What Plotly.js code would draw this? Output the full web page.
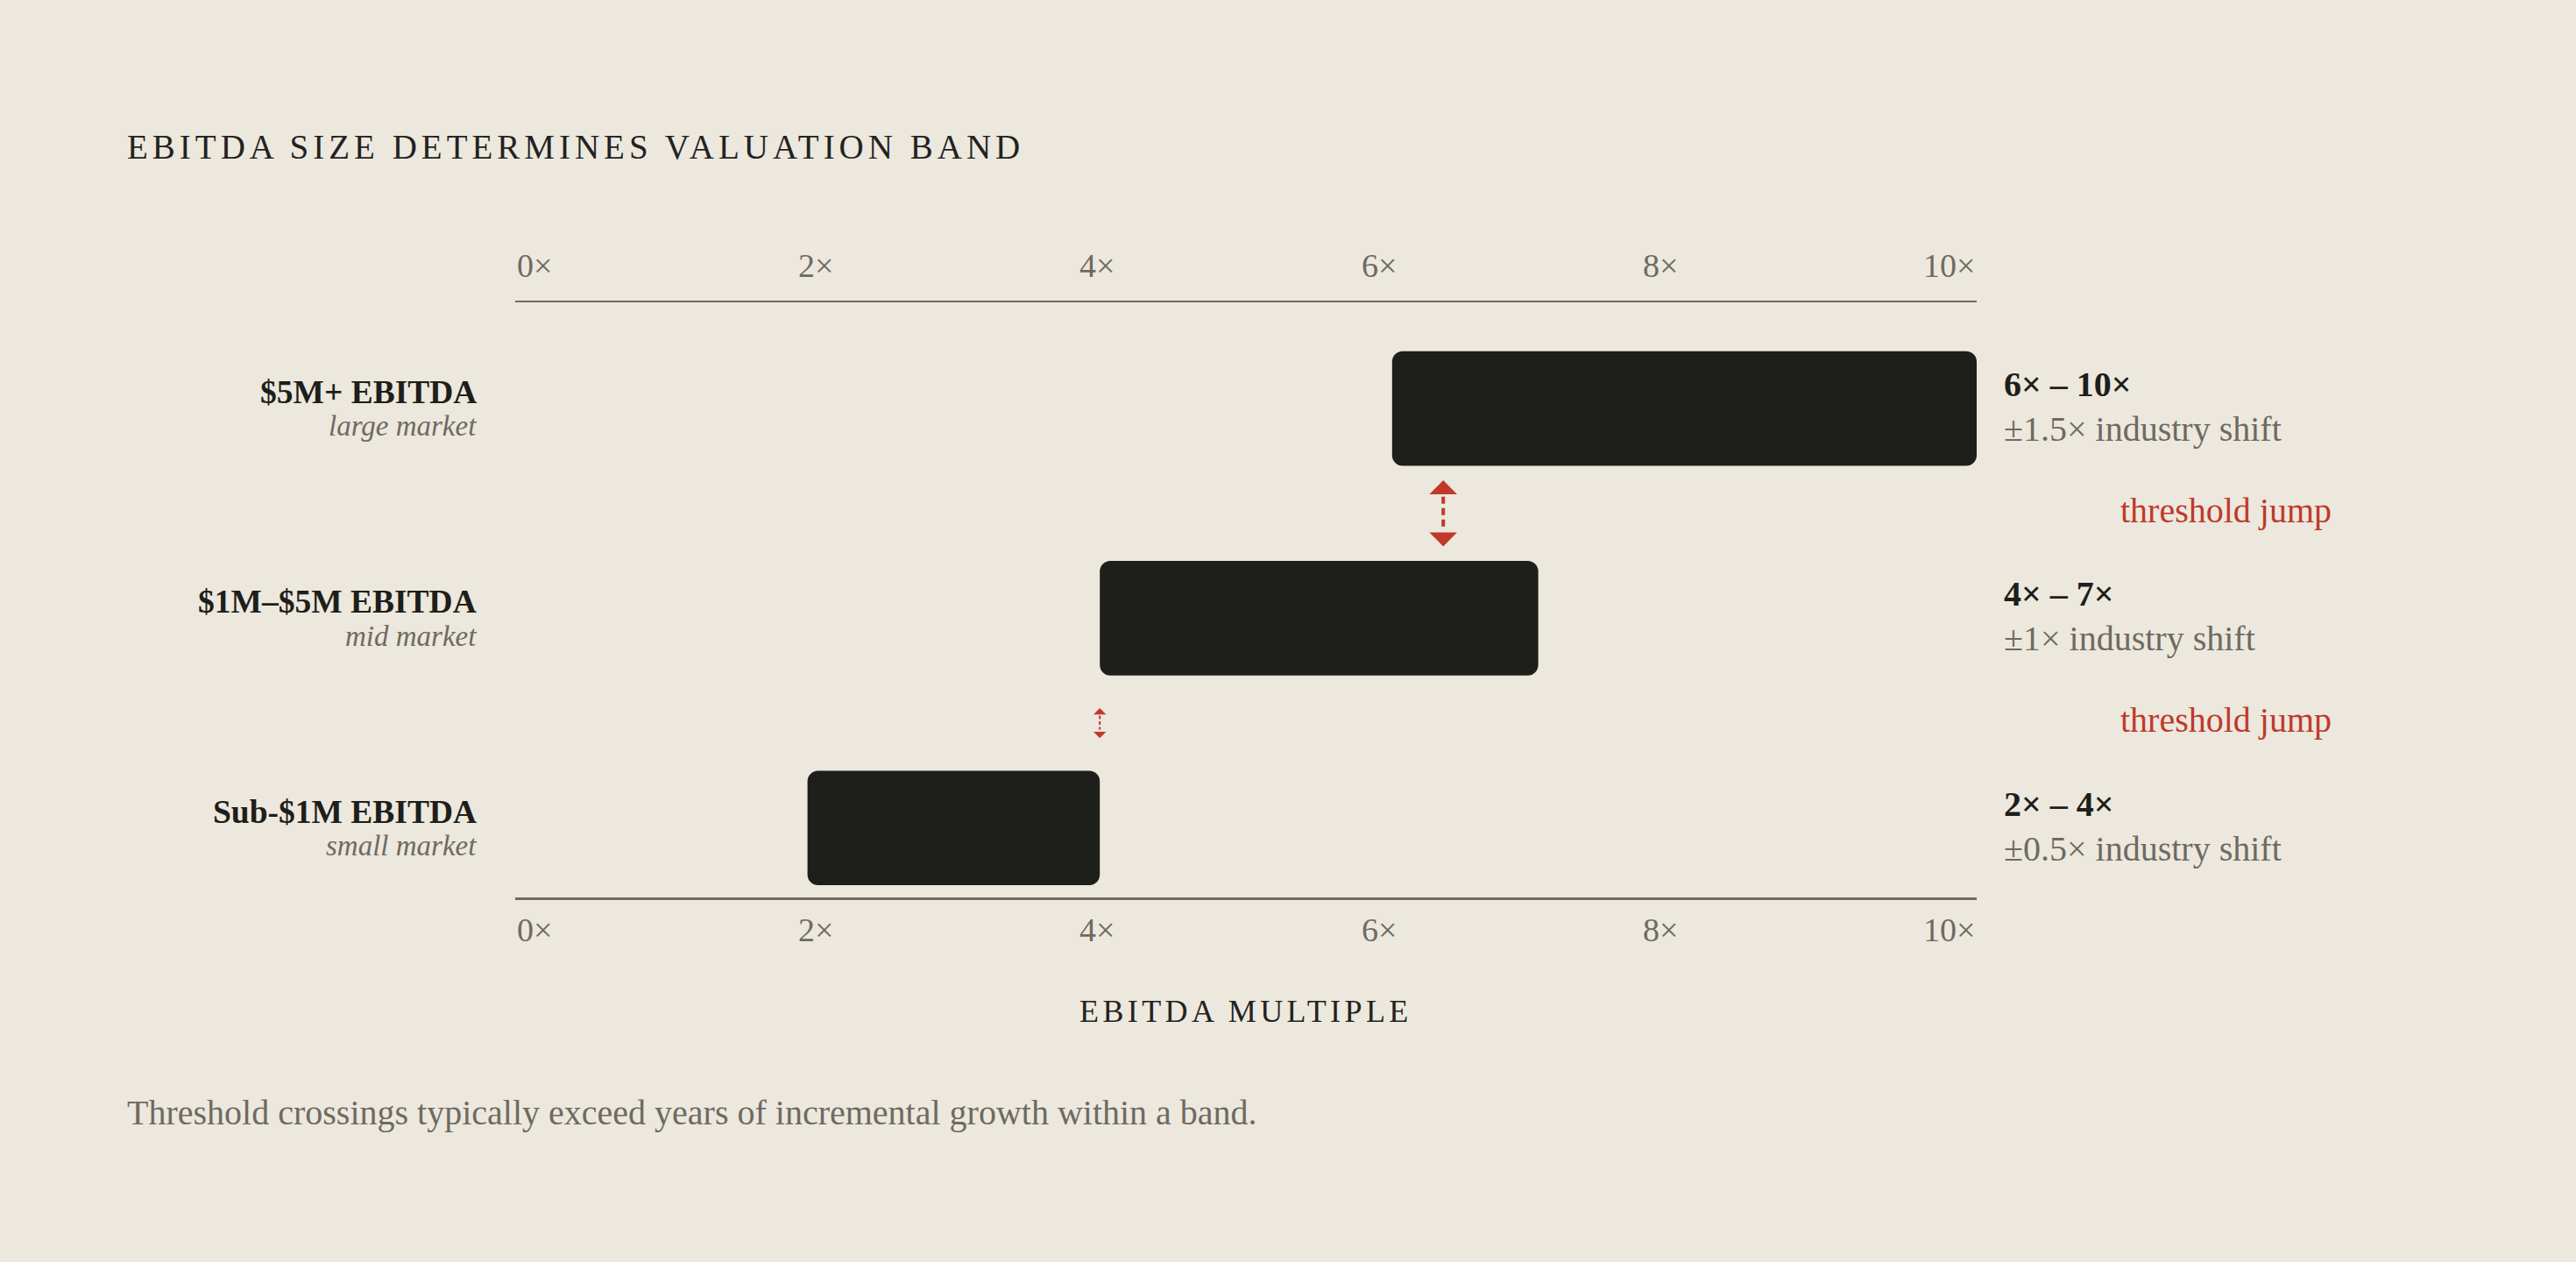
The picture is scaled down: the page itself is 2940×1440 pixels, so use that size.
<!DOCTYPE html>
<html>
<head>
<meta charset="utf-8">
<script src="https://cdn.plot.ly/plotly-3.0.1.min.js"></script>
<style>
  html, body { margin: 0; padding: 0; background: #ECE8DD; }
  #chart { width: 2940px; height: 1440px; }
</style>
</head>
<body>
<div id="chart"></div>
<script>
// ---------- data ----------
const bands = ['$5M+ EBITDA', '$1M–$5M EBITDA', 'Sub-$1M EBITDA'];
const markets = ['large market', 'mid market', 'small market'];
const lowMultiple = [6, 4, 2];
const highMultiple = [10, 7, 4];
const rangeLabels = ['6× – 10×', '4× – 7×', '2× – 4×'];
const shiftLabels = ['±1.5× industry shift', '±1× industry shift', '±0.5× industry shift'];
const tickValues = [0, 2, 4, 6, 8, 10];
const tickLabels = ['0×', '2×', '4×', '6×', '8×', '10×'];
const jumpArrowX = [6.35, 4.0];
const jumpLabels = ['threshold jump', 'threshold jump'];
const titleText = 'EBITDA SIZE DETERMINES VALUATION BAND';
const axisTitleText = 'EBITDA MULTIPLE';
const footnoteText = 'Threshold crossings typically exceed years of incremental growth within a band.';

// ---------- style ----------
const BG = '#ECE8DD';
const INK = '#1E1E1A';
const GRAY = '#6E6A62';
const RED = '#C0392B';
const SERIF = 'Liberation Serif, DejaVu Serif, serif';

const n = bands.length;
const rowPos = bands.map((_, i) => n - 1 - i);          // top band at top
const jumpPos = jumpArrowX.map((_, i) => n - 1.5 - i);   // between rows
const arrowScale = [1, 0.455];

const barTrace = {
  type: 'bar',
  orientation: 'h',
  y: rowPos,
  base: lowMultiple,
  x: highMultiple.map((h, i) => h - lowMultiple[i]),
  width: 0.546,
  marker: { color: INK, line: { width: 0 } },
  hoverinfo: 'skip',
  showlegend: false
};

const annotations = [];
const spaced = [];

// title
annotations.push({
  xref: 'paper', yref: 'paper', x: 0, y: 1, xanchor: 'left', yanchor: 'middle', align: 'left',
  xshift: -445, yshift: 177.5, showarrow: false, text: titleText,
  font: { family: SERIF, size: 39, color: '#23221F' }
});
spaced.push([annotations.length - 1, '5px']);

// axis title
annotations.push({
  xref: 'paper', yref: 'paper', x: 0.5, y: 0, xanchor: 'center', yanchor: 'middle',
  yshift: -129.5, showarrow: false, text: axisTitleText,
  font: { family: SERIF, size: 36, color: '#23221F' }
});
spaced.push([annotations.length - 1, '4.4px']);

// footnote
annotations.push({
  xref: 'paper', yref: 'paper', x: 0, y: 0, xanchor: 'left', yanchor: 'middle', align: 'left',
  xshift: -445.5, yshift: -(1284.5 - 13.6 - 1025), showarrow: false, text: footnoteText,
  font: { family: SERIF, size: 40, color: GRAY }
});

// tick labels top & bottom (flex space-between style placement)
tickValues.forEach((v, k) => {
  const last = tickValues.length - 1;
  const xa = k === 0 ? 'left' : (k === last ? 'right' : 'center');
  const xs = (k === 0 || k === last) ? 0 : 21 - 12 * k;
  [[1, 42], [0, -37.4]].forEach(([py, ys]) => {
    annotations.push({
      xref: 'x', yref: 'paper', x: v, y: py, xanchor: xa, yanchor: 'middle',
      xshift: xs, yshift: ys, showarrow: false, text: tickLabels[k],
      font: { family: SERIF, size: 38, color: GRAY }
    });
  });
});

// row labels
bands.forEach((b, i) => {
  annotations.push({
    xref: 'paper', yref: 'y', x: 0, y: rowPos[i], xanchor: 'right', yanchor: 'middle',
    xshift: -42.5, yshift: 18.6, showarrow: false, text: b,
    font: { family: SERIF, size: 37.5, color: INK, weight: 'bold' }
  });
  annotations.push({
    xref: 'paper', yref: 'y', x: 0, y: rowPos[i], xanchor: 'right', yanchor: 'middle',
    xshift: -42.5, yshift: -20.3, showarrow: false, text: markets[i],
    font: { family: SERIF, size: 33, color: GRAY, style: 'italic' }
  });
  annotations.push({
    xref: 'paper', yref: 'y', x: 1, y: rowPos[i], xanchor: 'left', yanchor: 'middle',
    xshift: 29, yshift: 27.6, showarrow: false, text: rangeLabels[i],
    font: { family: SERIF, size: 40, color: INK, weight: 'bold' }
  });
  annotations.push({
    xref: 'paper', yref: 'y', x: 1, y: rowPos[i], xanchor: 'left', yanchor: 'middle',
    xshift: 29, yshift: -23.4, showarrow: false, text: shiftLabels[i],
    font: { family: SERIF, size: 40, color: GRAY }
  });
});

// threshold jump labels
jumpLabels.forEach((t, i) => {
  annotations.push({
    xref: 'paper', yref: 'y', x: 1, y: jumpPos[i], xanchor: 'right', yanchor: 'middle',
    xshift: 407, yshift: 3.6, showarrow: false, text: t,
    font: { family: SERIF, size: 40, color: RED }
  });
});

// arrows (pixel-sized shapes anchored at data positions)
const shapes = [];
jumpArrowX.forEach((xv, i) => {
  const s = arrowScale[i];
  const tip = 37.8 * s, base = 21.8 * s, hw = 15.8 * s;
  const common = { xref: 'x', yref: 'y', xsizemode: 'pixel', ysizemode: 'pixel', xanchor: xv, yanchor: jumpPos[i] };
  shapes.push(Object.assign({}, common, {
    type: 'path', path: `M${-hw},${base} L${hw},${base} L0,${tip} Z`,
    fillcolor: RED, line: { width: 0 }
  }));
  shapes.push(Object.assign({}, common, {
    type: 'path', path: `M${-hw},${-base} L${hw},${-base} L0,${-tip} Z`,
    fillcolor: RED, line: { width: 0 }
  }));
  shapes.push(Object.assign({}, common, {
    type: 'path', path: `M0,${19 * s} L0,${-16.5 * s}`,
    line: { color: RED, width: Math.max(2, 4 * s), dash: s < 1 ? '4px,2.5px' : '8px,5px' }
  }));
});

const layout = {
  width: 2940, height: 1440,
  paper_bgcolor: BG, plot_bgcolor: BG,
  margin: { l: 588, r: 684, t: 345, b: 416, pad: 0 },
  showlegend: false,
  barcornerradius: 12,
  xaxis: {
    range: [0, 10], showgrid: false, zeroline: false, showticklabels: false, ticks: '',
    showline: true, mirror: true, linecolor: '#6E6B63', linewidth: 2.5, fixedrange: true
  },
  yaxis: {
    range: [-0.331, 2.506], showgrid: false, zeroline: false, showticklabels: false,
    ticks: '', showline: false, fixedrange: true
  },
  annotations: annotations,
  shapes: shapes
};

Plotly.newPlot('chart', [barTrace], layout, { displayModeBar: false, staticPlot: true }).then(() => {
  spaced.forEach(([idx, ls]) => {
    const el = document.querySelector('.annotation[data-index="' + idx + '"] .annotation-text');
    if (el) el.style.letterSpacing = ls;
  });
});
</script>
</body>
</html>
